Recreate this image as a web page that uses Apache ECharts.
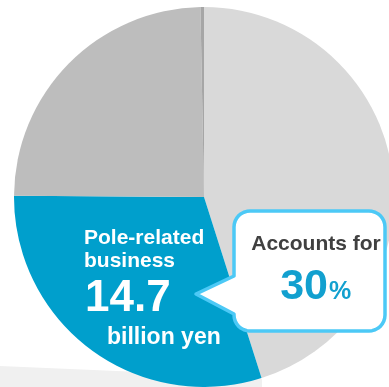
<!DOCTYPE html>
<html>
<head>
<meta charset="utf-8">
<script src="https://cdn.jsdelivr.net/npm/echarts@6/dist/echarts.min.js"></script>
<style>
  html, body { margin: 0; padding: 0; background: #ffffff; }
  #chart { width: 389px; height: 387px; }
</style>
</head>
<body>
<div id="chart"></div>
<script>
// Sales breakdown, shares in percent, clockwise from 12 o'clock
const segmentNames = ['Other businesses', 'Pole-related business', 'Segment B', 'Segment C'];
const segmentShares = [45.1, 30, 24.6, 0.3];
const segmentColors = ['#d9d9d9', '#009fcc', '#bdbdbd', '#a6a6a6'];

// Highlighted segment
const poleIndex = 1;
const poleSalesBillionYen = 14.7;

const FONT = '"Liberation Sans", Arial, sans-serif';

const chart = echarts.init(document.getElementById('chart'), null, { renderer: 'canvas' });

const pieData = segmentNames.map((name, i) => ({
  name: name,
  value: segmentShares[i],
  itemStyle: { color: segmentColors[i] }
}));

const shareText = String(segmentShares[poleIndex]);

// Speech bubble outline: rounded box with a tail pointing left
function roundedCorner(cx, cy, rad, a0, a1) {
  const pts = [];
  const steps = 8;
  for (let k = 0; k <= steps; k++) {
    const a = (a0 + (a1 - a0) * k / steps) * Math.PI / 180;
    pts.push([cx + rad * Math.cos(a), cy + rad * Math.sin(a)]);
  }
  return pts;
}
const L = 234, R = 385, T = 211, B = 331, rr = 16;
const tipX = 196, tipY = 294, tailTop = 276, tailBottom = 314;
const bubblePoints = []
  .concat(roundedCorner(L + rr, T + rr, rr, 180, 270))
  .concat(roundedCorner(R - rr, T + rr, rr, 270, 360))
  .concat(roundedCorner(R - rr, B - rr, rr, 0, 90))
  .concat(roundedCorner(L + rr, B - rr, rr, 90, 180))
  .concat([[L, tailBottom], [tipX, tipY], [L, tailTop]]);

function label(text, x, y, size, color, align) {
  return {
    type: 'text',
    z: 100,
    silent: true,
    style: {
      text: text, x: x, y: y, font: 'bold ' + size + 'px ' + FONT,
      fill: color, textAlign: align, textVerticalAlign: 'middle'
    }
  };
}

const option = {
  backgroundColor: '#ffffff',
  animation: false,
  series: [{
    type: 'pie',
    z: 2,
    center: [204, 197],
    radius: [0, 190],
    startAngle: 90,
    clockwise: true,
    silent: true,
    label: { show: false },
    labelLine: { show: false },
    emphasis: { disabled: true },
    itemStyle: { borderWidth: 0 },
    data: pieData
  }],
  graphic: [
    // soft floor shadow under the pie
    {
      type: 'polygon',
      z: 0,
      silent: true,
      shape: { points: [[0, 366], [140, 372], [262, 379], [262, 387], [0, 387]] },
      style: { fill: '#f0f0f0' }
    },
    label('Pole-related', 84, 238, 21, '#ffffff', 'left'),
    label('business', 84, 261, 21, '#ffffff', 'left'),
    label(String(poleSalesBillionYen), 85, 299, 44, '#ffffff', 'left'),
    label('billion yen', 107, 338, 23, '#ffffff', 'left'),
    {
      type: 'polygon',
      z: 90,
      silent: true,
      shape: { points: bubblePoints },
      style: { fill: '#ffffff', stroke: '#4cc9f6', lineWidth: 3.5, lineJoin: 'round' }
    },
    label('Accounts for', 316, 244, 21, '#404040', 'center'),
    label(shareText, 328, 287, 43, '#12a0cf', 'right'),
    label('%', 329, 292, 25, '#12a0cf', 'left')
  ]
};

chart.setOption(option);
</script>
</body>
</html>
